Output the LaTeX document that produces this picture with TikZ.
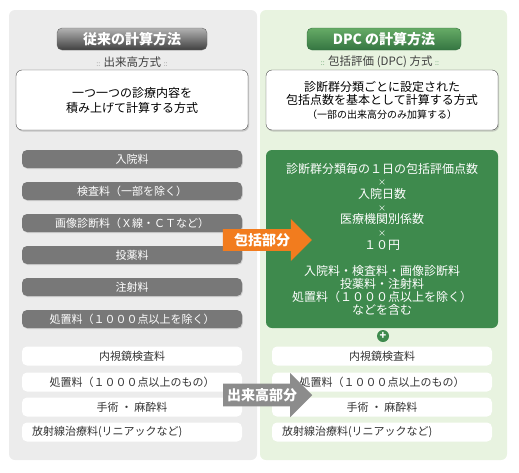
\documentclass[tikz,border=0pt]{standalone}
\usepackage{fontspec}
\setmainfont{Noto Sans CJK JP}
\usetikzlibrary{shapes.arrows, shadows}

\definecolor{leftbg}{HTML}{ECECEC}
\definecolor{rightbg}{HTML}{E8F3E0}
\definecolor{itemgray}{HTML}{787878}
\definecolor{dpcgreen}{HTML}{3E8A4D}
\definecolor{arroworange}{HTML}{F27C1E}
\definecolor{arrowgray}{HTML}{8C8C8C}

\begin{document}
\begin{tikzpicture}[x=1pt, y=-1pt,
        panel/.style={rounded corners=6pt},
        title/.style={rectangle, rounded corners=5pt, minimum height=22pt, text=white,
                      font=\bfseries\fontsize{14}{16}\selectfont, inner sep=0pt},
        subtitle/.style={font=\fontsize{11.5}{13}\selectfont, text=black!75, inner sep=0pt},
        textbox/.style={rectangle, rounded corners=6pt, draw=black!70, fill=white,
                        minimum width=232pt, minimum height=60pt, align=center,
                        drop shadow={shadow xshift=1pt, shadow yshift=-1.5pt, opacity=0.35}},
        item/.style={rectangle, rounded corners=5pt, fill=itemgray, text=white,
                     minimum width=220pt, minimum height=18pt, inner sep=0pt,
                     font=\fontsize{11}{13}\selectfont,
                     drop shadow={shadow xshift=0.8pt, shadow yshift=-1pt, opacity=0.25}},
        witem/.style={rectangle, rounded corners=5pt, fill=white, text=black!80,
                      minimum width=220pt, minimum height=19pt, inner sep=0pt,
                      font=\fontsize{11}{13}\selectfont},
        bigarrow/.style={single arrow, single arrow head extend=10pt, single arrow head indent=0pt,
                         minimum height=89pt, inner xsep=2pt, inner ysep=4pt, text=white,
                         font=\bfseries\fontsize{14}{16}\selectfont}
    ]
    \useasboundingbox (0,0) rectangle (519,472);

    % panels
    \fill[panel, fill=leftbg]  (9,10)  rectangle (257,460);
    \fill[panel, fill=rightbg] (260,10) rectangle (507,460);

    % headings
    \node[title, minimum width=150pt, draw=black!60, top color=black!30, bottom color=black!75]
        (oldtitle) at (132,39) {従来の計算方法};
    \node[title, minimum width=154pt, draw=dpcgreen!80!black, top color=green!45!black!60!white, bottom color=dpcgreen!85!black]
        (dpctitle) at (384,39) {DPC の計算方法};
    \node[subtitle] (oldsub) at (132,62) {{\color{black!50}\scriptsize ::} 出来高方式 {\color{black!50}\scriptsize ::}};
    \node[subtitle] (dpcsub) at (380,62) {{\color{dpcgreen}\scriptsize ::} 包括評価 (DPC) 方式 {\color{dpcgreen}\scriptsize ::}};

    \node[textbox, font=\fontsize{12}{15}\selectfont] (oldtext) at (132,100)
        {一つ一つの診療内容を\\積み上げて計算する方式};
    \node[textbox, font=\fontsize{12}{13.5}\selectfont] (dpctext) at (382,100)
        {診断群分類ごとに設定された\\包括点数を基本として計算する方式\\
         {\fontsize{10}{12}\selectfont （一部の出来高分のみ加算する）}};

    % items included in the DPC part
    \node[item] (nyuin)   at (132,159) {入院料};
    \node[item] (kensa)   at (132,191) {検査料（一部を除く）};
    \node[item] (gazo)    at (132,223) {画像診断料（Ｘ線・ＣＴなど）};
    \node[item] (toyaku)  at (132,255) {投薬料};
    \node[item] (chusha)  at (132,287) {注射料};
    \node[item] (shochi)  at (132,319) {処置料（１０００点以上を除く）};

    \node[rectangle, rounded corners=6pt, fill=dpcgreen, text=white, minimum width=232pt,
          minimum height=178pt, align=center, font=\fontsize{12}{12.7}\selectfont]
        (dpcbox) at (382,239)
        {診断群分類毎の１日の包括評価点数\\{\footnotesize ×}\\入院日数\\{\footnotesize ×}\\
         医療機関別係数\\{\footnotesize ×}\\１０円\\[14pt]
         入院料・検査料・画像診断料\\投薬料・注射料\\処置料（１０００点以上を除く）\\などを含む};

    \node[circle, fill=dpcgreen, text=white, inner sep=0pt, minimum size=12pt,
          font=\bfseries\fontsize{11}{11}\selectfont] (plus) at (383,336) {+};

    % fee-for-service items
    \node[witem] (naishi)  at (132,356) {内視鏡検査料};
    \node[witem] (shochib) at (132,382) {処置料（１０００点以上のもの）};
    \node[witem] (shujutsu) at (132,407) {手術 ・ 麻酔料};
    \node[witem, text width=200pt, inner xsep=10pt, align=left] (hoshasen) at (132,432)
        {放射線治療料(リニアックなど)};

    \node[witem] (naishi2)  at (382,356) {内視鏡検査料};
    \node[witem] (shochib2) at (382,382) {処置料（１０００点以上のもの）};
    \node[witem] (shujutsu2) at (382,407) {手術 ・ 麻酔料};
    \node[witem, text width=200pt, inner xsep=10pt, align=left] (hoshasen2) at (382,432)
        {放射線治療料(リニアックなど)};

    % arrows
    \node[bigarrow, fill=arroworange, minimum width=42pt] (hokatsu) at (262,240) {包括部分};
    \node[bigarrow, fill=arrowgray, minimum width=44pt] (dekidaka) at (262,395) {出来高部分};
\end{tikzpicture}
\end{document}
